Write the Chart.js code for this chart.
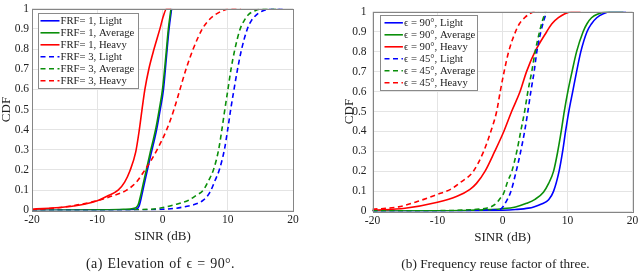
<!DOCTYPE html>
<html>
<head>
<meta charset="utf-8">
<script src="https://cdn.jsdelivr.net/npm/chart.js@4"></script>
<style>
html, body { margin: 0; padding: 0; background: #fff; }
#wrap { position: relative; width: 640px; height: 272px; overflow: hidden; }
canvas { position: absolute; top: 0; }
#chartA { left: 0; }
#chartB { left: 320px; }
.cap {
    position: absolute; top: 256px; height: 16px; line-height: 16px;
    font-family: 'Liberation Serif', 'DejaVu Serif', serif; font-size: 13.3px;
    color: #222; text-align: center; white-space: nowrap;
}
#capA { left: 0; width: 321px; font-size: 14px; letter-spacing: 0.35px; word-spacing: 1px; }
#capB { left: 320px; width: 351px; }
</style>
</head>
<body>
<div id="wrap">
  <canvas id="chartA" width="320" height="272"></canvas>
  <canvas id="chartB" width="340" height="272"></canvas>
  <div class="cap" id="capA"></div>
  <div class="cap" id="capB"></div>
</div>
<script>
// tick labels and captions
const xTickLabels = ['-20', '-10', '0', '10', '20'];
const yTickLabels = ['0', '0.1', '0.2', '0.3', '0.4', '0.5', '0.6', '0.7', '0.8', '0.9', '1'];
const captions = ['(a) Elevation of \u03F5 = 90\u00B0.', '(b) Frequency reuse factor of three.'];

// (a) elevation 90 deg: SINR (dB) / CDF
const labelsA = ['FRF= 1, Light', 'FRF= 1, Average', 'FRF= 1, Heavy', 'FRF= 3, Light', 'FRF= 3, Average', 'FRF= 3, Heavy'];
const frf1LightX = [-20, -10, -5, -4, -3.6, -3.2, -2.8, -1.9, -0.9, -0.35, 0.15, 0.6, 1.0, 1.4];
const frf1LightY = [0, 0.001, 0.003, 0.006, 0.02, 0.07, 0.13, 0.26, 0.4, 0.5, 0.6, 0.76, 0.9, 1];
const frf1AvgX = [-20, -10, -6, -4.5, -4, -3.7, -3.3, -2.9, -2, -1, -0.5, 0, 0.5, 0.9, 1.3];
const frf1AvgY = [0, 0.002, 0.005, 0.009, 0.015, 0.03, 0.08, 0.14, 0.27, 0.41, 0.5, 0.6, 0.76, 0.9, 1];
const frf1HeavyX = [-20, -15, -12, -10, -8.5, -6.8, -5.8, -5, -4.1, -3.55, -3.14, -2.7, -2.1, -1.3, -0.4, 0.1, 0.64, 1.3];
const frf1HeavyY = [0.005, 0.016, 0.03, 0.047, 0.07, 0.1, 0.14, 0.195, 0.29, 0.4, 0.5, 0.6, 0.7, 0.8, 0.9, 0.96, 1, 1];
const frf3LightX = [-20, -5, -2, 0, 2, 3.45, 5, 6.25, 7.28, 8.05, 8.7, 9.48, 9.99, 10.45, 10.96, 11.5, 12.13, 13, 13.6, 14.4, 15.4, 16.5, 18.8];
const frf3LightY = [0, 0.001, 0.002, 0.005, 0.01, 0.018, 0.03, 0.05, 0.09, 0.148, 0.2, 0.3, 0.4, 0.5, 0.6, 0.7, 0.8, 0.9, 0.94, 0.97, 0.99, 1, 1];
const frf3AvgX = [-20, -5, -2, -0.46, 1.65, 4, 5.2, 6.25, 7.1, 7.8, 8.6, 9.1, 9.55, 10.03, 10.5, 11.1, 11.9, 12.5, 13.15, 14.2, 15.4, 18];
const frf3AvgY = [0, 0.002, 0.005, 0.01, 0.026, 0.05, 0.075, 0.1, 0.15, 0.2, 0.3, 0.4, 0.5, 0.6, 0.7, 0.8, 0.9, 0.94, 0.97, 0.99, 1, 1];
const frf3HeavyX = [-20, -16, -13, -10, -8, -5.5, -4, -2.7, -1.7, -0.6, 0.64, 1.76, 2.68, 3.6, 4.7, 6.1, 7, 8.05, 9.2, 10.3, 12];
const frf3HeavyY = [0.003, 0.013, 0.027, 0.048, 0.068, 0.1, 0.14, 0.2, 0.25, 0.315, 0.4, 0.5, 0.6, 0.7, 0.8, 0.9, 0.94, 0.97, 0.99, 1, 1];

// (b) frequency reuse factor three
const labelsB = ['\u03F5 = 90\u00B0, Light', '\u03F5 = 90\u00B0, Average', '\u03F5 = 90\u00B0, Heavy', '\u03F5 = 45\u00B0, Light', '\u03F5 = 45\u00B0, Average', '\u03F5 = 45\u00B0, Heavy'];
const e90LightX = [-20, -10, -5, 0, 2, 4, 4.8, 6, 7.1, 7.85, 8.7, 9.25, 9.7, 10.2, 10.8, 11.4, 12.05, 13, 13.7, 14.5, 15.5, 16.6, 19];
const e90LightY = [0, 0.001, 0.002, 0.005, 0.009, 0.016, 0.022, 0.037, 0.058, 0.1, 0.2, 0.3, 0.4, 0.5, 0.6, 0.7, 0.8, 0.9, 0.94, 0.97, 0.99, 1, 1];
const e90AvgX = [-20, -10, -5, 0, 2, 3.7, 5, 6.3, 7.1, 7.85, 8.5, 9.03, 9.5, 10.05, 10.7, 11.4, 12.4, 13, 13.7, 14.8, 16, 18.6];
const e90AvgY = [0.001, 0.002, 0.005, 0.013, 0.022, 0.04, 0.06, 0.096, 0.14, 0.2, 0.3, 0.4, 0.5, 0.6, 0.7, 0.8, 0.9, 0.94, 0.97, 0.99, 1, 1];
const e90HeavyX = [-20, -15, -10, -7, -5, -4, -2.7, -1.2, 0.2, 1.4, 2.7, 3.7, 5, 6.8, 7.6, 8.6, 9.6, 10.7, 12];
const e90HeavyY = [0.005, 0.015, 0.045, 0.075, 0.11, 0.14, 0.2, 0.3, 0.4, 0.5, 0.6, 0.7, 0.8, 0.9, 0.94, 0.97, 0.99, 1, 1];
const e45LightX = [-20, -10, -4, -2, -0.36, 0.67, 1.3, 2.1, 2.8, 3.4, 3.9, 4.36, 4.87, 5.28, 5.9, 6.3, 6.8];
const e45LightY = [0.001, 0.002, 0.004, 0.006, 0.01, 0.055, 0.1, 0.2, 0.3, 0.4, 0.5, 0.6, 0.7, 0.8, 0.9, 0.95, 1];
const e45AvgX = [-20, -10, -6, -4, -2.5, -1.1, -0.4, 0.15, 0.8, 1.43, 2.2, 2.8, 3.4, 3.9, 4.5, 5.03, 5.7, 6.1, 6.6];
const e45AvgY = [0.002, 0.003, 0.006, 0.01, 0.015, 0.036, 0.063, 0.088, 0.15, 0.2, 0.3, 0.4, 0.5, 0.6, 0.7, 0.8, 0.9, 0.95, 1];
const e45HeavyX = [-20, -16, -13, -10, -8, -6.5, -4.5, -2.9, -1.8, -0.9, -0.35, 0.25, 0.95, 2.0, 2.6, 3.4, 4.2, 5, 5.5];
const e45HeavyY = [0.01, 0.022, 0.05, 0.085, 0.11, 0.144, 0.2, 0.3, 0.4, 0.5, 0.6, 0.7, 0.8, 0.9, 0.94, 0.97, 0.99, 1, 1];

const BLUE = '#0000ff';
const GREEN = '#0a8f0a';
const RED = '#ff0000';
const TEXT = '#222';

Chart.defaults.font.family = "'Liberation Serif', 'DejaVu Serif', serif";
Chart.defaults.color = TEXT;

document.getElementById('capA').textContent = captions[0];
document.getElementById('capB').textContent = captions[1];

function pts(xs, ys) {
    return xs.map((x, i) => ({ x: x, y: ys[i] }));
}

function series(label, xs, ys, color, dashed, i) {
    return {
        label: label,
        data: pts(xs, ys),
        borderColor: color,
        borderWidth: 1.6,
        borderDash: dashed ? [5, 3.5] : [],
        pointRadius: 0,
        cubicInterpolationMode: 'monotone',
        fill: false,
        order: 6 - i
    };
}

// frame round the plot area plus a MATLAB style legend box inside it
const boxLegend = {
    id: 'boxLegend',
    afterDatasetsDraw(chart, args, o) {
        const ctx = chart.ctx;
        const a = chart.chartArea;
        ctx.save();
        ctx.strokeStyle = '#858585';
        ctx.lineWidth = 1;
        ctx.strokeRect(Math.round(a.left) + 0.5, Math.round(a.top) + 0.5,
            Math.round(a.right - a.left), Math.round(a.bottom - a.top));

        const bx = Math.round(a.left + o.x) + 0.5;
        const by = Math.round(a.top + o.y) + 0.5;
        ctx.fillStyle = '#fff';
        ctx.fillRect(bx, by, o.w, o.h);
        ctx.strokeStyle = '#8a8a8a';
        ctx.strokeRect(bx, by, o.w, o.h);

        ctx.font = o.font;
        ctx.textBaseline = 'middle';
        ctx.textAlign = 'left';
        chart.data.datasets.forEach((ds, i) => {
            const y = by + o.row0 + i * o.rowH;
            ctx.beginPath();
            ctx.setLineDash(ds.borderDash);
            ctx.strokeStyle = ds.borderColor;
            ctx.lineWidth = ds.borderWidth;
            ctx.moveTo(bx + o.l0, y);
            ctx.lineTo(bx + o.l1, y);
            ctx.stroke();
            ctx.setLineDash([]);
            ctx.fillStyle = TEXT;
            ctx.fillText(ds.label, bx + o.tx, y + 0.5);
        });
        ctx.restore();
    }
};

function makeChart(id, datasets, p) {
    return new Chart(document.getElementById(id), {
        type: 'line',
        data: { datasets: datasets },
        plugins: [boxLegend],
        options: {
            responsive: false,
            animation: false,
            layout: { padding: { left: 0, right: p.padRight, top: p.padTop, bottom: p.padBottom } },
            scales: {
                x: {
                    type: 'linear',
                    min: -20,
                    max: 20,
                    border: { display: false },
                    grid: { color: '#e4e4e4', drawTicks: false },
                    ticks: {
                        stepSize: 10,
                        padding: 4,
                        font: { size: 11.5, lineHeight: 1 },
                        callback: (v, i) => xTickLabels[i]
                    },
                    title: {
                        display: true,
                        text: 'SINR (dB)',
                        font: { size: 13, lineHeight: 1 },
                        padding: { top: 0, bottom: 1 }
                    },
                    afterFit: s => { s.height = 34; }
                },
                y: {
                    min: 0,
                    max: 1,
                    border: { display: false },
                    grid: { color: '#e4e4e4', drawTicks: false },
                    ticks: {
                        stepSize: 0.1,
                        autoSkip: false,
                        padding: p.yTickPad,
                        font: { size: 11.5, lineHeight: 1 },
                        callback: (v, i) => yTickLabels[i]
                    },
                    title: {
                        display: true,
                        text: 'CDF',
                        font: { size: 13, lineHeight: 1 },
                        padding: { top: p.yTitlePad, bottom: 0 }
                    },
                    afterFit: s => { s.width = p.yWidth; }
                }
            },
            plugins: {
                legend: { display: false },
                tooltip: { enabled: false },
                boxLegend: p.legend
            }
        }
    });
}

const dsA = [
    series(labelsA[0], frf1LightX, frf1LightY, BLUE, false, 0),
    series(labelsA[1], frf1AvgX, frf1AvgY, GREEN, false, 1),
    series(labelsA[2], frf1HeavyX, frf1HeavyY, RED, false, 2),
    series(labelsA[3], frf3LightX, frf3LightY, BLUE, true, 3),
    series(labelsA[4], frf3AvgX, frf3AvgY, GREEN, true, 4),
    series(labelsA[5], frf3HeavyX, frf3HeavyY, RED, true, 5)
];

const dsB = [
    series(labelsB[0], e90LightX, e90LightY, BLUE, false, 0),
    series(labelsB[1], e90AvgX, e90AvgY, GREEN, false, 1),
    series(labelsB[2], e90HeavyX, e90HeavyY, RED, false, 2),
    series(labelsB[3], e45LightX, e45LightY, BLUE, true, 3),
    series(labelsB[4], e45AvgX, e45AvgY, GREEN, true, 4),
    series(labelsB[5], e45HeavyX, e45HeavyY, RED, true, 5)
];

const legendFont = "10.7px 'Liberation Serif', 'DejaVu Serif', serif";

makeChart('chartA', dsA, {
    padTop: 5, padRight: 27, padBottom: 27.7, yWidth: 32, yTickPad: 3, yTitlePad: 0,
    legend: { x: 6, y: 4.5, w: 100, h: 75, l0: 2, l1: 21, tx: 22, row0: 7.3, rowH: 12, font: legendFont }
});

makeChart('chartB', dsB, {
    padTop: 6, padRight: 27.5, padBottom: 26.7, yWidth: 52.5, yTitlePad: 23, yTickPad: 6,
    legend: { x: 7, y: 3.7, w: 97, h: 75, l0: 4, l1: 22.4, tx: 23.4, row0: 7.3, rowH: 12, font: legendFont }
});
</script>
</body>
</html>
